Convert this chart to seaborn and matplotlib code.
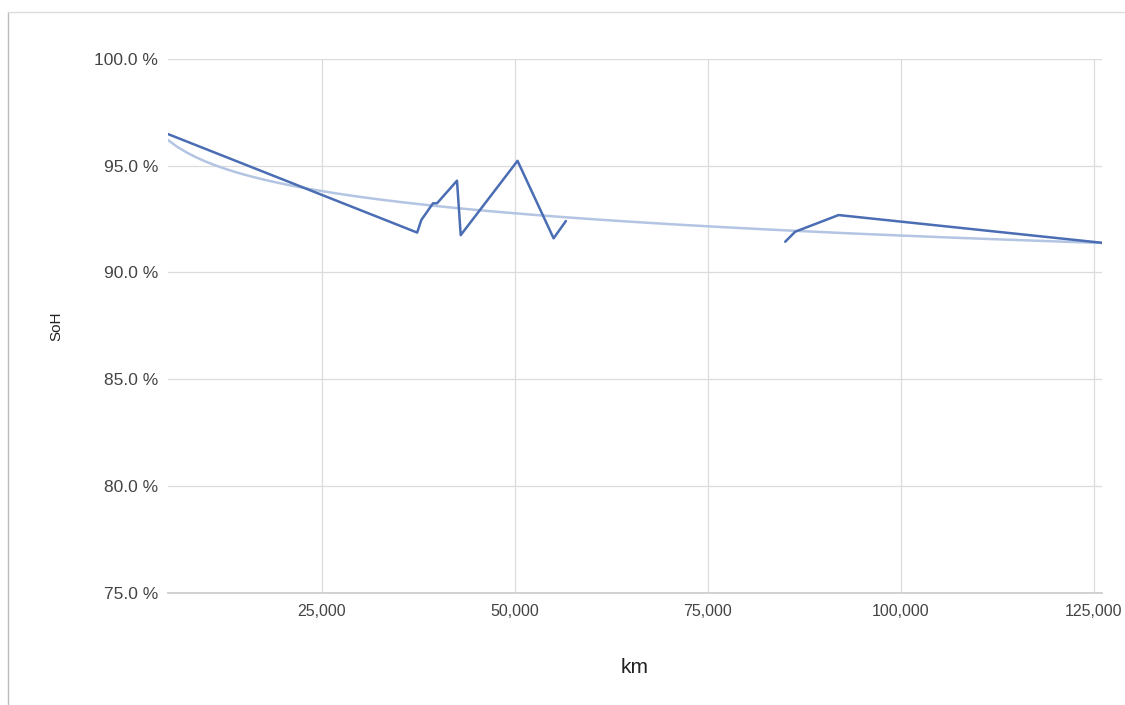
import matplotlib.pyplot as plt
import matplotlib.lines as mlines
import numpy as np
import pandas as pd
import seaborn as sns


# readings (km, state of health in %); NaN marks the gap between the two runs
km = [5060, 37380, 37920, 39430, 39950, 42540, 43020, 50380, 55050, 56640,
      np.nan, 85050, 86340, 91960, 126100]
soh = [96.49, 91.87, 92.46, 93.24, 93.24, 94.30, 91.75, 95.23, 91.60, 92.41,
       np.nan, 91.44, 91.91, 92.69, 91.39]

x_ticks = [25000, 50000, 75000, 100000, 125000]
y_ticks = [75, 80, 85, 90, 95, 100]

LINE_COLOR = "#4a6db3"
TREND_COLOR = "#b3c5e2"
GRID_COLOR = "#dcdcdc"


def main() -> None:
    sns.set_theme(style="white")
    plt.rcParams["font.family"] = ["Liberation Sans", "DejaVu Sans"]

    df = pd.DataFrame({"km": km, "soh": soh})
    df["segment"] = df["soh"].isna().cumsum()
    pts = df.dropna()

    fig = plt.figure(figsize=(11.25, 7.05), dpi=100)
    ax = fig.add_axes([0.149, 0.1593, 0.8307, 0.757])

    # logarithmic trendline fitted to the readings
    sns.regplot(
        data=pts, x="km", y="soh", logx=True, scatter=False, ci=None,
        line_kws={"color": TREND_COLOR, "lw": 1.8, "zorder": 2}, ax=ax,
    )
    sns.lineplot(
        data=pts, x="km", y="soh", units="segment", estimator=None,
        color=LINE_COLOR, lw=1.8, zorder=3, ax=ax,
    )

    ax.set_xlim(pts["km"].min(), pts["km"].max())
    ax.set_ylim(75, 100)
    ax.set_xticks(x_ticks)
    ax.set_yticks(y_ticks)
    ax.xaxis.set_major_formatter(lambda v, pos: f"{v:,.0f}")
    ax.yaxis.set_major_formatter(lambda v, pos: f"{v:.1f} %")
    ax.grid(True, color=GRID_COLOR, lw=0.9)
    for side in ["top", "right", "left"]:
        ax.spines[side].set_visible(False)
    ax.spines["bottom"].set_color("#cccccc")
    ax.tick_params(axis="both", length=0, colors="#444444")
    ax.tick_params(axis="y", labelsize=12.5, pad=7)
    ax.tick_params(axis="x", labelsize=11.5, pad=8)
    ax.set_xlabel("km", fontsize=15, color="#222222", labelpad=28)
    ax.set_ylabel("SoH", fontsize=11, color="#222222", labelpad=22)

    # frame of the chart container
    fig.add_artist(mlines.Line2D([0.007, 0.007], [0, 0.983], color="#bbbbbb", lw=1))
    fig.add_artist(mlines.Line2D([0.007, 1], [0.983, 0.983], color="#dddddd", lw=1))

    fig.savefig("out.png", dpi=100)
    plt.close(fig)


if __name__ == "__main__":
    main()
